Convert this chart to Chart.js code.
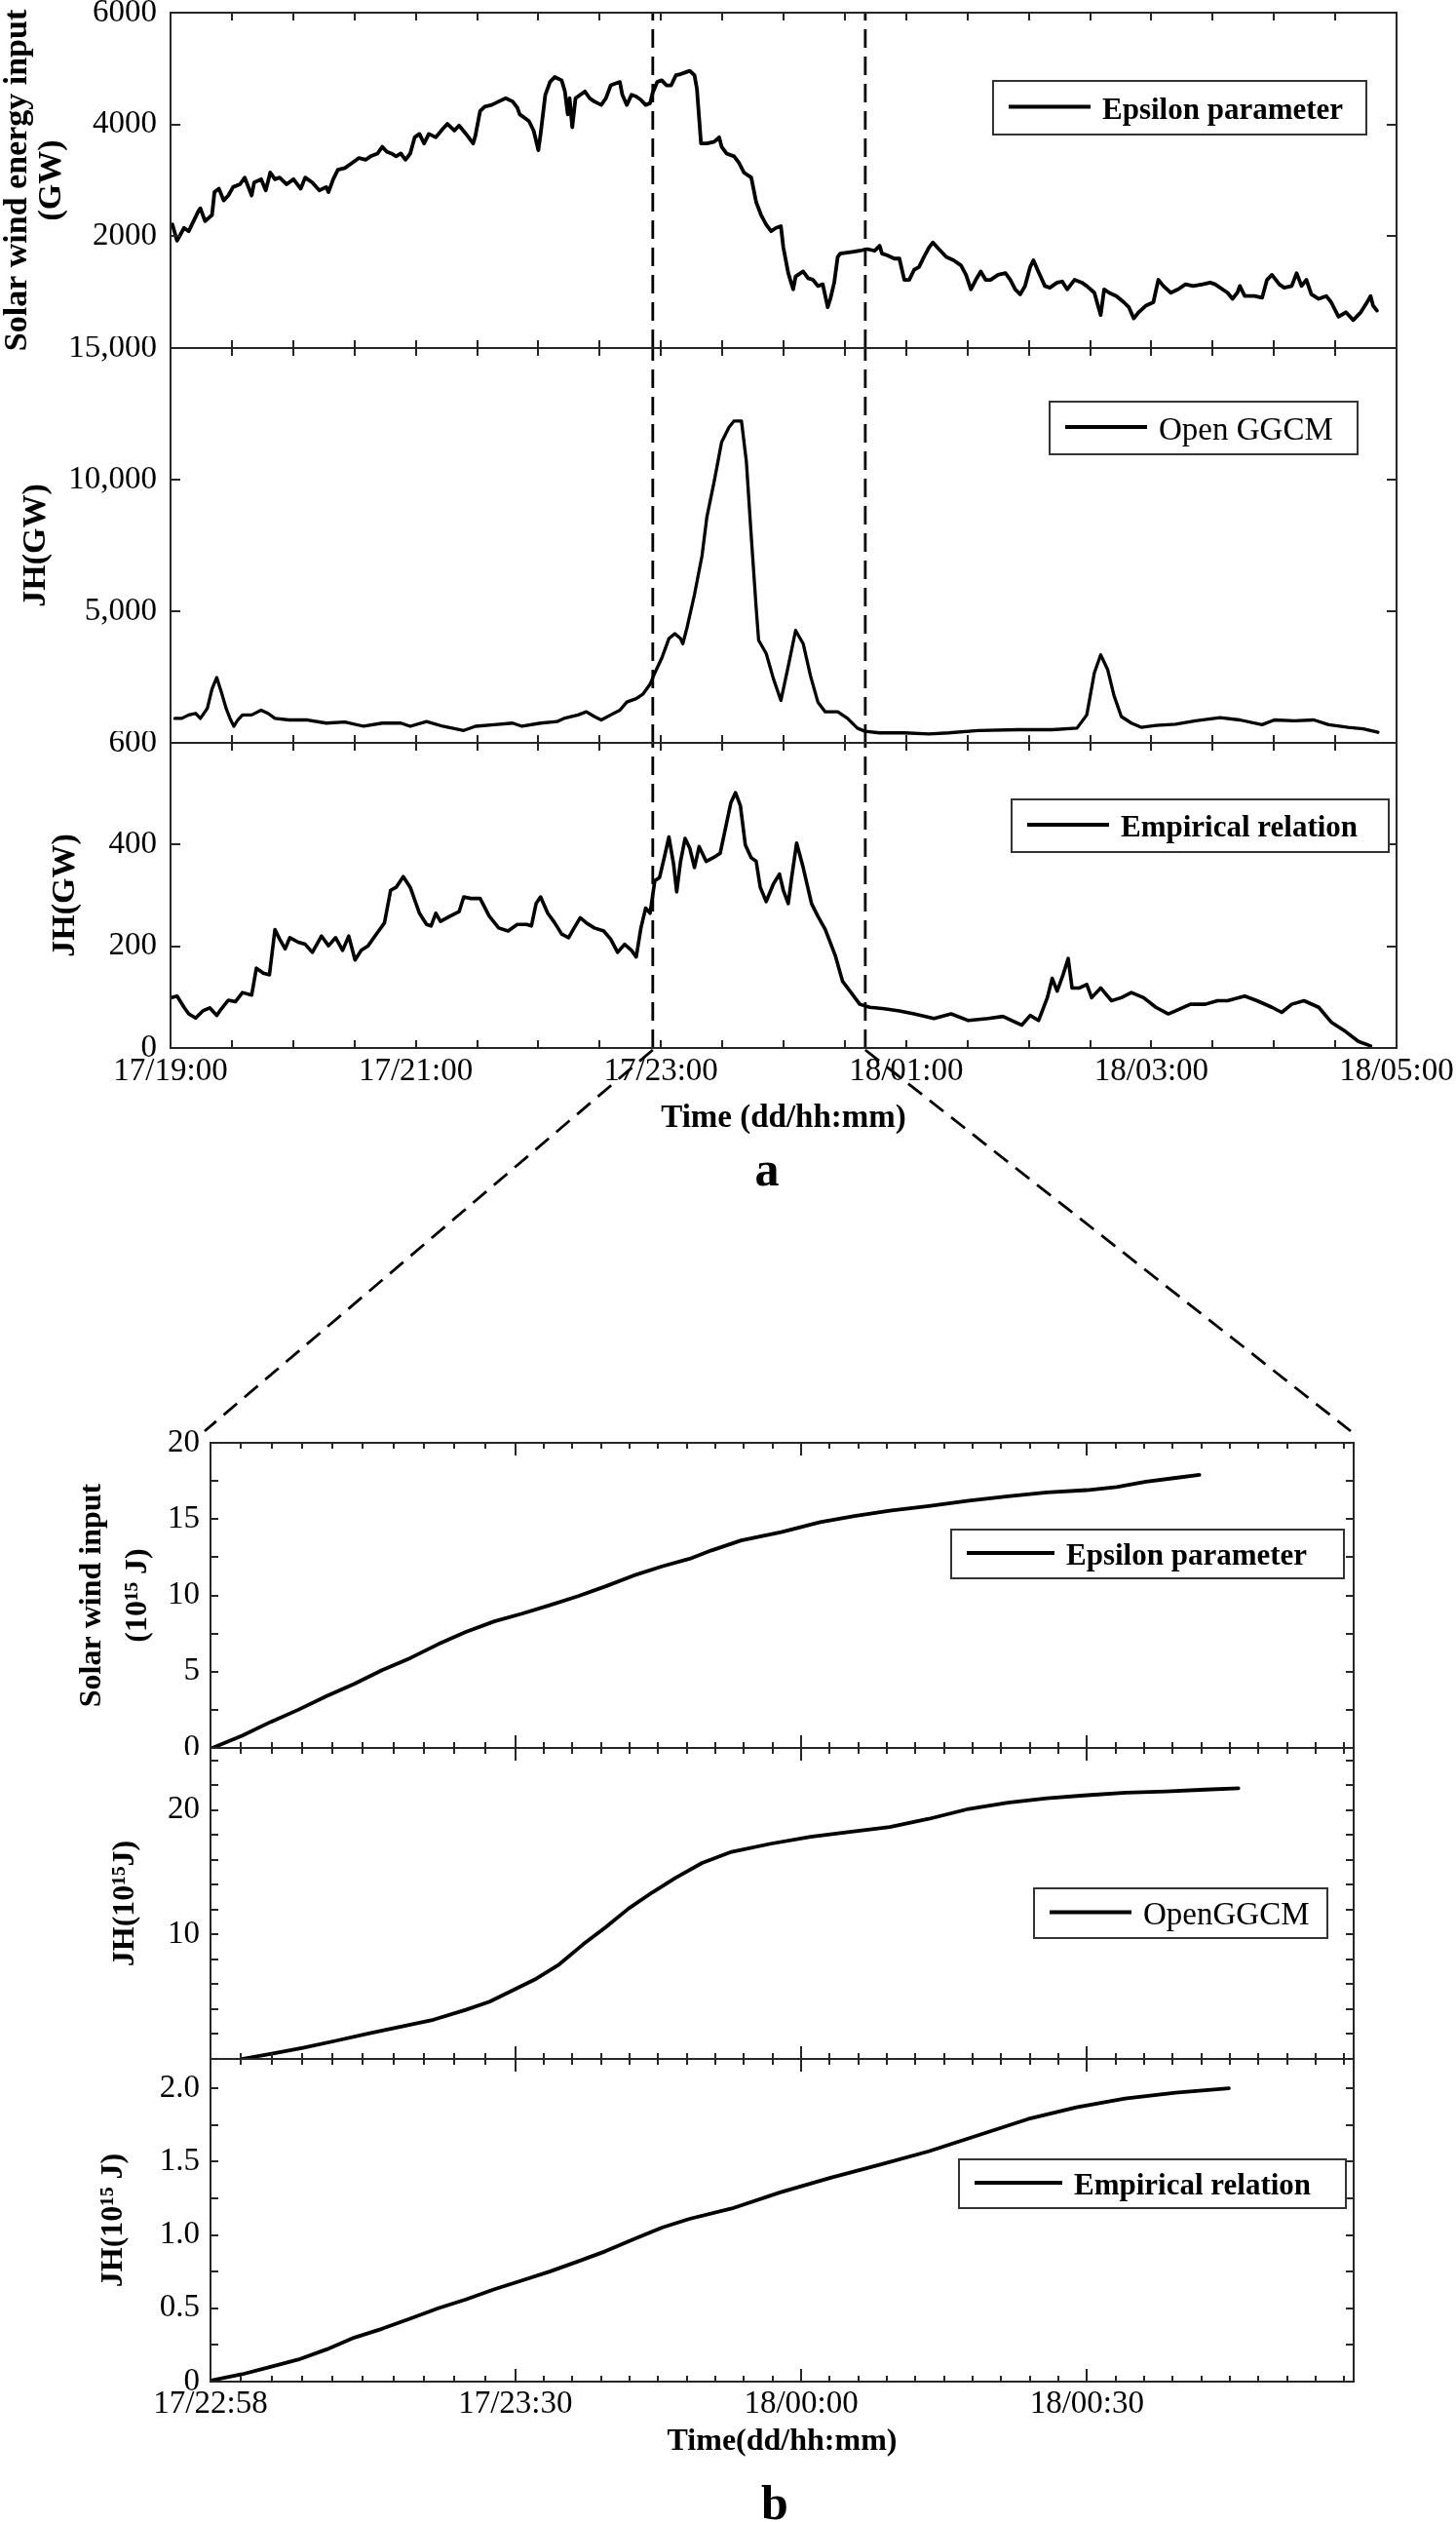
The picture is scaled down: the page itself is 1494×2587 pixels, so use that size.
<!DOCTYPE html>
<html>
<head>
<meta charset="utf-8">
<script src="https://cdn.jsdelivr.net/npm/chart.js@4.4.1/dist/chart.umd.min.js"></script>
<style>
  html, body { margin: 0; padding: 0; background: #fff; }
  body { width: 1494px; height: 2587px; position: relative; overflow: hidden; }
  .panel { position: absolute; left: 0; width: 1494px; }
  .panel canvas { display: block; }
  .tag { position: absolute; font: bold 50px 'Liberation Serif', 'Times New Roman', serif; color: #000;
         line-height: 1; transform: translate(-50%, -50%); }
</style>
</head>
<body>
<div class="panel" style="top:0px;height:372px"><canvas id="ca1" width="1494" height="372"></canvas></div>
<div class="panel" style="top:345px;height:430px"><canvas id="ca2" width="1494" height="430"></canvas></div>
<div class="panel" style="top:750px;height:730px"><canvas id="ca3" width="1494" height="730"></canvas></div>
<div class="panel" style="top:1400px;height:400px"><canvas id="cb1" width="1494" height="400"></canvas></div>
<div class="panel" style="top:1785px;height:335px"><canvas id="cb2" width="1494" height="335"></canvas></div>
<div class="panel" style="top:2100px;height:487px"><canvas id="cb3" width="1494" height="487"></canvas></div>
<div class="tag" style="left:787px;top:1199px">a</div>
<div class="tag" style="left:795px;top:2567px">b</div>

<script>
// ===================== DATA =====================
// Panel a: x = minutes after 17/19:00
const aTimeTickValues = [0, 120, 240, 360, 480, 600];
const aTimeTickLabels = ['17/19:00', '17/21:00', '17/23:00', '18/01:00', '18/03:00', '18/05:00'];
// Panel b: x = minutes after 17/22:58
const bTimeTickValues = [0, 32, 62, 92];
const bTimeTickLabels = ['17/22:58', '17/23:30', '18/00:00', '18/00:30'];
// zoomed interval marked in panel a (minutes after 17/19:00)
const zoomWindow = [236, 340];

const seriesNames = ['Epsilon parameter', 'Open GGCM', 'Empirical relation', 'OpenGGCM'];

// Solar wind energy input, epsilon parameter (GW)
const epsilonPower = [[0.9,2210],[3.2,1920],[6.6,2150],[8.9,2090],[13.5,2440],[14.6,2500],[16.9,2270],[20.3,2380],[21.5,2790],[23.7,2850],[26.0,2640],[28.3,2730],[30.6,2880],[34.0,2930],[36.3,3050],[39.7,2730],[40.9,2960],[44.3,3020],[46.6,2820],[48.8,3140],[51.1,3020],[53.4,3050],[56.8,2930],[60.2,3020],[63.7,2850],[65.9,3050],[69.4,2960],[72.8,2820],[76.2,2880],[77.3,2790],[79.6,3020],[81.9,3190],[85.3,3220],[88.8,3310],[92.2,3400],[95.6,3370],[97.9,3430],[101.3,3480],[103.6,3600],[105.9,3510],[108.1,3480],[110.4,3430],[112.7,3480],[115.0,3370],[117.3,3480],[119.5,3770],[121.8,3830],[124.1,3660],[126.4,3830],[129.8,3770],[133.2,3920],[135.5,4010],[138.9,3890],[141.2,3980],[144.6,3830],[148.1,3660],[149.2,3800],[151.5,4240],[153.8,4320],[157.2,4350],[160.6,4410],[164.0,4470],[167.4,4410],[169.7,4300],[170.9,4180],[173.2,4120],[175.4,4060],[177.7,3890],[180.0,3540],[181.1,3830],[183.4,4530],[185.7,4760],[188.0,4850],[191.4,4790],[193.0,4590],[194.4,4180],[195.3,4470],[196.6,3950],[198.2,4470],[200.5,4530],[202.8,4590],[205.1,4470],[207.4,4410],[210.8,4350],[213.1,4470],[215.4,4700],[217.6,4730],[219.9,4760],[221.1,4530],[223.3,4350],[225.6,4530],[227.9,4500],[230.2,4440],[232.5,4350],[234.7,4380],[235.9,4560],[238.2,4760],[240.4,4790],[242.7,4700],[245.0,4700],[247.3,4880],[249.6,4900],[251.8,4930],[254.1,4960],[256.4,4880],[257.6,4640],[258.9,4010],[259.6,3660],[262.5,3660],[266.1,3690],[268.5,3770],[269.7,3600],[272.1,3480],[275.8,3430],[278.2,3310],[280.6,3140],[284.2,3050],[286.6,2610],[289.0,2380],[291.5,2210],[293.9,2090],[296.3,2150],[298.7,2180],[299.9,1800],[302.3,1340],[304.7,1050],[305.9,1280],[309.6,1370],[312.0,1250],[314.4,1220],[316.8,1110],[319.2,1140],[321.6,730],[322.9,880],[324.8,1170],[326.5,1630],[327.7,1690],[333.7,1720],[337.3,1740],[341.0,1770],[344.6,1740],[347.0,1830],[348.2,1690],[350.6,1660],[354.2,1600],[356.7,1600],[359.1,1220],[361.5,1220],[363.9,1400],[366.3,1450],[368.7,1630],[371.2,1800],[373.1,1890],[376.0,1770],[379.6,1630],[383.2,1570],[386.8,1480],[389.3,1310],[391.7,1050],[394.1,1220],[396.5,1370],[398.9,1220],[401.3,1220],[405.0,1310],[408.6,1340],[411.0,1220],[413.4,1050],[415.8,960],[418.2,1110],[420.7,1450],[422.3,1570],[424.3,1400],[427.9,1110],[430.3,1080],[433.9,1170],[436.4,1190],[438.8,1050],[442.4,1220],[446.0,1170],[448.4,1110],[452.1,990],[455.2,590],[456.9,1050],[459.3,990],[462.9,930],[466.5,820],[469.0,730],[471.4,530],[473.8,640],[477.4,760],[481.0,820],[483.4,1220],[485.9,1110],[489.5,990],[493.1,1050],[496.7,1140],[500.4,1110],[505.2,1140],[508.8,1170],[511.2,1140],[514.8,1050],[517.3,990],[519.7,880],[522.1,990],[523.3,1110],[525.7,930],[530.5,930],[534.2,900],[536.6,1220],[539.0,1310],[542.6,1140],[545.0,1080],[548.7,1110],[551.1,1340],[553.5,1110],[555.9,1220],[558.3,960],[561.9,880],[565.6,930],[568.0,820],[571.6,560],[575.2,640],[578.8,500],[582.5,640],[586.1,850],[587.3,930],[588.5,760],[590.4,670]];

// Joule heating, OpenGGCM (GW)
const openggcmPower = [[2.1,930],[5.5,930],[8.9,1060],[12.3,1120],[14.6,930],[18.0,1310],[20.3,2050],[22.6,2480],[24.9,1920],[27.2,1310],[29.4,870],[31.0,630],[32.9,870],[35.2,1060],[39.7,1060],[44.3,1240],[47.7,1120],[51.1,930],[58.0,870],[67.1,870],[76.2,750],[85.3,790],[94.5,630],[103.6,750],[112.7,750],[117.3,630],[125.3,810],[133.2,630],[143.5,470],[149.2,630],[158.3,690],[167.4,750],[172.0,630],[181.1,750],[189.1,810],[192.5,930],[199.4,1060],[203.5,1180],[207.4,1000],[210.8,870],[215.4,1060],[219.9,1240],[223.3,1550],[227.9,1680],[231.3,1860],[234.7,2230],[237.0,2660],[240.4,3220],[243.9,3960],[246.8,4150],[249.6,3960],[250.7,3770],[252.8,4390],[256.4,5630],[260.1,7110],[262.5,8590],[266.1,9950],[269.7,11430],[273.3,11990],[275.8,12230],[279.4,12230],[281.8,10690],[284.2,7850],[286.6,5130],[287.8,3900],[291.5,3400],[295.1,2420],[298.7,1610],[302.3,2910],[305.9,4270],[309.6,3770],[313.2,2540],[316.8,1550],[320.4,1180],[326.5,1180],[331.3,930],[336.1,560],[339.8,440],[347.0,380],[359.1,380],[371.2,340],[380.8,380],[395.3,470],[414.6,500],[431.5,500],[443.6,560],[448.4,1060],[452.1,2660],[455.2,3340],[458.6,2790],[461.7,1800],[465.3,1000],[470.2,750],[475.0,590],[482.2,660],[491.9,710],[501.6,840],[513.6,960],[523.3,870],[534.2,690],[540.2,870],[549.9,840],[559.5,870],[566.8,690],[576.4,590],[583.7,530],[590.9,400]];

// Joule heating, empirical relation (GW)
const empiricalPower = [[0.5,99],[3.2,102],[6.6,80],[8.9,67],[12.3,59],[15.8,73],[19.2,79],[22.6,64],[24.9,77],[28.3,94],[31.7,91],[35.2,109],[39.7,104],[42.0,157],[45.4,147],[48.4,144],[51.1,233],[53.4,214],[56.1,195],[58.4,217],[62.5,208],[65.9,204],[69.4,188],[73.9,220],[77.3,201],[80.8,217],[84.2,192],[87.2,220],[90.3,173],[93.3,192],[96.7,201],[101.3,227],[104.7,246],[107.7,310],[110.4,316],[113.9,337],[117.3,316],[121.8,265],[125.3,243],[127.5,240],[129.8,265],[132.1,249],[136.7,259],[141.2,268],[143.5,297],[146.9,294],[151.5,294],[156.0,259],[160.6,236],[165.2,230],[169.7,243],[174.3,243],[176.6,240],[178.9,284],[181.1,297],[184.6,265],[188.0,246],[191.4,224],[194.8,217],[197.1,233],[200.5,256],[203.5,246],[207.4,236],[212.0,230],[215.4,214],[218.8,188],[222.2,204],[225.6,192],[227.9,179],[230.2,236],[232.5,275],[234.7,265],[237.0,329],[239.3,335],[241.6,374],[243.9,415],[246.2,361],[247.7,307],[249.6,367],[251.8,412],[254.1,393],[256.4,355],[258.7,396],[262.1,367],[265.5,374],[269.0,383],[271.2,425],[274.2,482],[276.5,502],[278.9,476],[281.3,399],[284.2,374],[286.6,367],[288.6,316],[291.5,288],[295.1,323],[298.0,342],[299.9,310],[302.3,284],[304.0,336],[306.4,403],[309.6,355],[313.7,284],[316.8,259],[320.4,233],[325.3,182],[328.9,131],[332.5,112],[337.3,86],[342.2,80],[349.4,77],[356.7,73],[363.9,67],[373.6,58],[382.0,67],[390.5,54],[400.1,58],[407.4,62],[416.6,45],[420.7,64],[424.8,54],[429.1,99],[431.5,137],[433.9,112],[436.8,144],[439.3,176],[441.2,118],[444.8,118],[448.4,125],[450.8,99],[455.2,118],[460.5,93],[465.3,99],[470.2,109],[476.2,99],[482.2,80],[488.3,67],[491.9,73],[499.1,86],[506.4,86],[512.4,93],[517.3,93],[525.7,102],[531.7,93],[539.0,80],[543.8,70],[548.7,86],[554.7,93],[561.9,80],[568.0,51],[575.2,32],[581.3,13],[587.3,4]];

// Cumulative energies (10^15 J), x = minutes after 17/22:58
const epsilonEnergy = [[0.2,0],[3.3,0.8],[6.3,1.7],[9.2,2.5],[12.2,3.4],[15.1,4.2],[18.0,5.1],[21.0,5.9],[23.9,6.8],[26.8,7.6],[29.8,8.3],[32.7,8.8],[35.6,9.35],[38.6,9.95],[41.5,10.6],[44.4,11.3],[47.4,11.9],[50.3,12.4],[52.6,12.95],[55.7,13.6],[59.9,14.15],[64.0,14.8],[67.6,15.2],[71.3,15.55],[75.4,15.85],[79.6,16.2],[83.7,16.5],[87.8,16.75],[92.0,16.9],[95.1,17.1],[98.2,17.45],[101.3,17.7],[103.8,17.9]];
const openggcmEnergy = [[3.3,0],[6.3,0.4],[9.7,0.9],[13.1,1.45],[16.6,2.05],[20.0,2.6],[23.4,3.15],[26.8,3.95],[29.3,4.6],[31.7,5.5],[34.2,6.45],[36.6,7.6],[39.1,9.2],[41.5,10.6],[43.9,12.1],[46.4,13.4],[48.8,14.55],[51.6,15.75],[54.7,16.65],[58.8,17.3],[63.0,17.85],[67.1,18.25],[71.3,18.65],[75.4,19.3],[79.6,20.1],[83.7,20.6],[87.8,20.95],[92.0,21.2],[96.1,21.4],[100.3,21.5],[104.4,21.65],[107.9,21.75]];
const empiricalEnergy = [[0.2,0.01],[3.3,0.05],[6.3,0.1],[9.2,0.15],[12.2,0.22],[15.1,0.3],[18.0,0.36],[21.0,0.43],[23.9,0.5],[26.8,0.56],[29.8,0.63],[32.7,0.69],[35.6,0.75],[38.6,0.82],[41.5,0.89],[44.4,0.97],[47.4,1.05],[50.3,1.11],[54.7,1.18],[59.8,1.29],[65.1,1.39],[70.3,1.48],[75.4,1.57],[80.6,1.68],[85.8,1.79],[90.9,1.87],[96.0,1.93],[101.3,1.97],[106.9,2.0]];

// y tick labels per panel
const a1Ticks = [2000, 4000, 6000];
const a2Ticks = [5000, 10000, 15000];
const a3Ticks = [0, 200, 400, 600];
const b1Ticks = [0, 5, 10, 15, 20];
const b2Ticks = [10, 20];
const b3Ticks = [0, 0.5, 1.0, 1.5, 2.0];

// ===================== RENDERING =====================
const SERIF = "'Liberation Serif', 'Times New Roman', serif";
Chart.defaults.font.family = SERIF;
Chart.defaults.color = '#000';
const tickFont = { family: SERIF, size: 33 };
const FRAME = '#262626';
const charts = {};

function steps(from, to, step) { const out = []; for (let v = from; v <= to + 1e-9; v += step) out.push(+v.toFixed(6)); return out; }
const aXTicks = steps(0, 600, 30).map(v => ({ v, len: 8 }));
const bXTicks = (() => {
  const out = bTimeTickValues.map(v => ({ v, len: 13 }));
  for (let i = 0; i < bTimeTickValues.length - 1; i++) {
    const s = bTimeTickValues[i], e = bTimeTickValues[i + 1];
    for (let k = 1; k < 10; k++) out.push({ v: s + (e - s) * k / 10, len: 6 });
  }
  const last = bTimeTickValues[bTimeTickValues.length - 1];
  for (let v = last + 3; v < 120; v += 3) out.push({ v, len: 6 });
  return out;
})();

const framePlugin = {
  id: 'frame',
  afterDatasetsDraw(chart, args, o) {
    const { ctx, chartArea: a } = chart;
    const xs = chart.scales.x, ys = chart.scales.y;
    ctx.save();
    ctx.strokeStyle = FRAME; ctx.lineWidth = 2; ctx.lineCap = 'butt';
    ctx.beginPath();
    (o.xTicks || []).forEach(t => {
      const px = Math.round(xs.getPixelForValue(t.v));
      ctx.moveTo(px, a.top); ctx.lineTo(px, a.top + t.len);
      ctx.moveTo(px, a.bottom); ctx.lineTo(px, a.bottom - t.len);
    });
    (o.yTicks || []).forEach(t => {
      const py = Math.round(ys.getPixelForValue(t.v));
      ctx.moveTo(a.left, py); ctx.lineTo(a.left + t.len, py);
      ctx.moveTo(a.right, py); ctx.lineTo(a.right - t.len, py);
    });
    ctx.stroke();
    ctx.strokeRect(a.left, a.top, a.right - a.left, a.bottom - a.top);

    const L = o.legend;
    if (L) {
      const ds = chart.data.datasets[0];
      const bx = a.right - L.right - L.width, by = a.top + L.top;
      ctx.fillStyle = '#fff'; ctx.fillRect(bx, by, L.width, L.height);
      ctx.strokeStyle = '#333'; ctx.lineWidth = 2; ctx.strokeRect(bx, by, L.width, L.height);
      const cy = by + L.height / 2;
      ctx.strokeStyle = ds.borderColor; ctx.lineWidth = 4;
      ctx.beginPath(); ctx.moveTo(bx + 16, cy - 1); ctx.lineTo(bx + 16 + L.lineLen, cy - 1); ctx.stroke();
      ctx.fillStyle = '#000';
      ctx.font = (L.bold ? 'bold 31px ' : '33px ') + SERIF;
      ctx.textAlign = 'left'; ctx.textBaseline = 'middle';
      ctx.fillText(ds.label, bx + 16 + L.lineLen + 12, cy + 3);
    }
    ctx.restore();
  },
  afterDraw(chart, args, o) {
    if (!o.connectTo) return;
    const target = charts[o.connectTo];
    if (!target) return;
    const ra = chart.canvas.getBoundingClientRect(), rb = target.canvas.getBoundingClientRect();
    const dx = rb.left - ra.left, dy = rb.top - ra.top;
    const ta = target.chartArea;
    const ends = [[ta.left - 6 + dx, ta.top - 12 + dy], [ta.right - 3 + dx, ta.top - 12 + dy]];
    const xs = chart.scales.x, a = chart.chartArea;
    const { ctx } = chart;
    ctx.save();
    ctx.strokeStyle = '#000'; ctx.lineWidth = 2.8; ctx.setLineDash([18, 10]);
    zoomWindow.forEach((t, i) => {
      ctx.beginPath();
      ctx.moveTo(xs.getPixelForValue(t), a.bottom + 2);
      ctx.lineTo(ends[i][0], ends[i][1]);
      ctx.stroke();
    });
    ctx.restore();
  }
};

function seriesDataset(label, arr, width) {
  return { label, data: arr.map(([x, y]) => ({ x, y })), borderColor: '#000', borderWidth: width,
           pointRadius: 0, tension: 0, fill: false, borderJoinStyle: 'round', borderCapStyle: 'round' };
}
function markerDatasets(ymin, ymax) {
  return zoomWindow.map(t => ({ label: '', data: [{ x: t, y: ymin }, { x: t, y: ymax }], borderColor: '#000',
           borderWidth: 2.8, borderDash: [19, 9], pointRadius: 0, tension: 0, fill: false }));
}

function panel(id, o) {
  const datasets = [seriesDataset(o.label, o.data, o.lw)];
  if (o.markers) datasets.push(...markerDatasets(o.ymin, o.ymax));
  charts[id] = new Chart(document.getElementById(id), {
    type: 'line',
    data: { datasets },
    options: {
      responsive: false, animation: false, events: [],
      layout: { padding: { left: 0, right: o.padRight, top: o.padTop, bottom: o.padBottom } },
      plugins: {
        legend: { display: false }, tooltip: { enabled: false },
        frame: { xTicks: o.xTicks, yTicks: o.yTickMarks, legend: o.legend, connectTo: o.connectTo }
      },
      scales: {
        x: {
          type: 'linear', min: o.xmin, max: o.xmax, display: !!o.xLabels, bounds: 'data',
          afterFit: s => { if (o.xLabels) s.height = o.xHeight; s.paddingLeft = 0; s.paddingRight = 0; },
          afterBuildTicks: s => { if (o.xLabels) s.ticks = o.xLabels.values.map(v => ({ value: v })); },
          grid: { display: false, drawTicks: false }, border: { display: false },
          ticks: { autoSkip: false, maxRotation: 0, minRotation: 0, padding: o.xTickPad || 0, font: tickFont, color: '#000',
                   callback: (v, i) => o.xLabels ? o.xLabels.text[i] : '' },
          title: o.xTitle ? { display: true, text: o.xTitle, color: '#000',
                   font: { family: SERIF, size: o.xTitleSize, weight: 'bold', lineHeight: 1.2 },
                   padding: { top: 0, bottom: o.xTitlePad } } : { display: false }
        },
        y: {
          type: 'linear', min: o.ymin, max: o.ymax, position: 'left', bounds: 'data',
          afterFit: s => { s.width = o.axisWidth; s.paddingTop = 0; s.paddingBottom = 0; },
          afterBuildTicks: s => { s.ticks = o.yLabels.map(v => ({ value: v })); },
          grid: { display: false, drawTicks: false }, border: { display: false },
          ticks: { autoSkip: false, padding: o.yTickPad, font: tickFont, color: '#000', callback: o.yFormat },
          title: { display: true, text: o.yTitle, color: '#000',
                   font: { family: SERIF, size: o.yTitleSize, weight: 'bold', lineHeight: o.yTitleLH },
                   padding: { top: o.yTitlePad, bottom: 0 } }
        }
      }
    },
    plugins: [framePlugin]
  });
}

const plain = v => String(v);
const commas = v => Number(v).toLocaleString('en-US');
const oneDec = v => (v === 0 ? '0' : Number(v).toFixed(1));

// ---- panel b (created first so panel a can connect to it) ----
const bCommon = { xmin: 0, xmax: 120, axisWidth: 216, padRight: 105, yTickPad: 11, xTicks: bXTicks, lw: 3.8, yTitleSize: 32 };
panel('cb1', Object.assign({}, bCommon, {
  label: seriesNames[0], data: epsilonEnergy, ymin: 0, ymax: 20, yLabels: b1Ticks, yFormat: plain,
  yTickMarks: steps(0, 20, 2.5).map(v => ({ v, len: 8 })),
  yTitle: ['Solar wind input', '(10\u00B9\u2075 J)'], yTitleLH: 1.47, yTitlePad: 71.5,
  padTop: 80, padBottom: 7,
  legend: { right: 10, top: 89, width: 403, height: 50, lineLen: 90, bold: true }
}));
panel('cb2', Object.assign({}, bCommon, {
  label: seriesNames[3], data: openggcmEnergy, ymin: 0, ymax: 25, yLabels: b2Ticks, yFormat: plain,
  yTickMarks: steps(0, 24, 2).map(v => ({ v, len: 8 })),
  yTitle: 'JH(10\u00B9\u2075J)', yTitleLH: 1.2, yTitlePad: 110,
  padTop: 8, padBottom: 8,
  legend: { right: 27, top: 144, width: 301, height: 51, lineLen: 84, bold: false }
}));
panel('cb3', Object.assign({}, bCommon, {
  label: seriesNames[2], data: empiricalEnergy, ymin: 0, ymax: 2.2, yLabels: b3Ticks, yFormat: oneDec,
  yTickMarks: steps(0, 2, 0.25).map(v => ({ v, len: 8 })),
  yTitle: 'JH(10\u00B9\u2075 J)', yTitleLH: 1.2, yTitlePad: 98,
  padTop: 12, padBottom: 0,
  xLabels: { values: bTimeTickValues, text: bTimeTickLabels }, xHeight: 144, xTickPad: 4,
  xTitle: 'Time(dd/hh:mm)', xTitleSize: 32, xTitlePad: 63,
  legend: { right: 8, top: 103, width: 397, height: 50, lineLen: 90, bold: true }
}));

// ---- panel a ----
const aCommon = { xmin: 0, xmax: 600, axisWidth: 175, padRight: 61, yTickPad: 14, xTicks: aXTicks, markers: true, yTitleSize: 34 };
panel('ca1', Object.assign({}, aCommon, {
  label: seriesNames[0], data: epsilonPower, lw: 3.8, ymin: 0, ymax: 6000, yLabels: a1Ticks, yFormat: plain,
  yTickMarks: a1Ticks.map(v => ({ v, len: 10 })),
  yTitle: ['Solar wind energy input', '(GW)'], yTitleLH: 1.05, yTitlePad: 0,
  padTop: 13, padBottom: 15,
  legend: { right: 31, top: 70, width: 383, height: 55, lineLen: 84, bold: true }
}));
panel('ca2', Object.assign({}, aCommon, {
  label: seriesNames[1], data: openggcmPower, lw: 3.3, ymin: 0, ymax: 15000, yLabels: a2Ticks, yFormat: commas,
  yTickMarks: a2Ticks.map(v => ({ v, len: 10 })),
  yTitle: 'JH(GW)', yTitleLH: 1.2, yTitlePad: 17,
  padTop: 12, padBottom: 13,
  legend: { right: 40, top: 55, width: 316, height: 54, lineLen: 84, bold: false }
}));
panel('ca3', Object.assign({}, aCommon, {
  label: seriesNames[2], data: empiricalPower, lw: 3.6, ymin: 0, ymax: 600, yLabels: a3Ticks, yFormat: plain,
  yTickMarks: a3Ticks.map(v => ({ v, len: 10 })),
  yTitle: 'JH(GW)', yTitleLH: 1.2, yTitlePad: 47,
  padTop: 12, padBottom: 0,
  xLabels: { values: aTimeTickValues, text: aTimeTickLabels }, xHeight: 405, xTickPad: 5,
  xTitle: 'Time (dd/hh:mm)', xTitleSize: 33, xTitlePad: 313,
  legend: { right: 8, top: 58, width: 387, height: 54, lineLen: 84, bold: true },
  connectTo: 'cb1'
}));
</script>
</body>
</html>
